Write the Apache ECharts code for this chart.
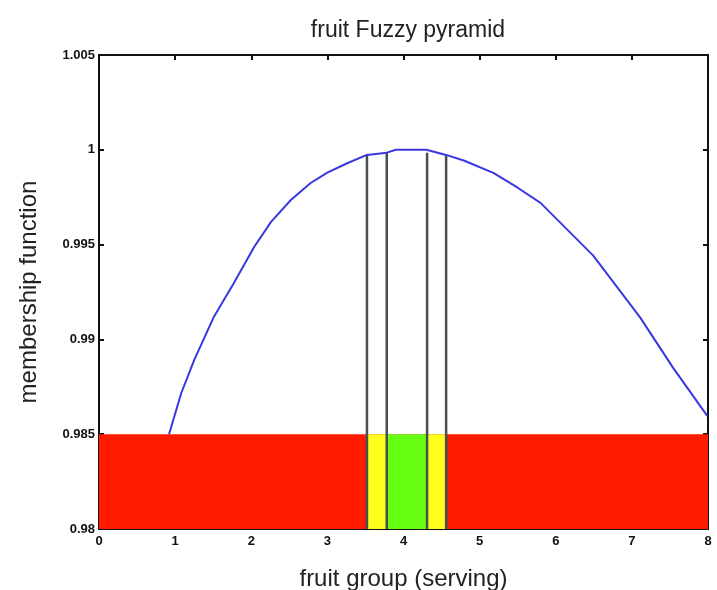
<!DOCTYPE html>
<html>
  <head>
    <meta charset="utf-8">
    <title>fruit Fuzzy pyramid</title>
    <script src="https://cdn.jsdelivr.net/npm/echarts@6/dist/echarts.min.js"></script>
    <style>
      html, body { margin: 0; padding: 0; background: #fff; }
      #chart { width: 717px; height: 590px; }
    </style>
  </head>
  <body>
    <div id="chart"></div>
    <script>
      // membership curve
      var curveX = [0.92, 1.08, 1.25, 1.51, 1.77, 2.04, 2.26, 2.52, 2.78, 3.0, 3.26, 3.52, 3.78, 3.9, 4.3, 4.56, 4.8, 5.18, 5.5, 5.8, 6.49, 7.11, 7.54, 7.99];
      var curveY = [0.985, 0.98716, 0.98891, 0.9912, 0.99296, 0.99489, 0.9962, 0.99735, 0.99825, 0.9988, 0.99929, 0.99973, 0.99985, 1.0, 1.0, 0.99973, 0.99942, 0.99878, 0.998, 0.9972, 0.99443, 0.99115, 0.98851, 0.98597];

      // coloured bands under the curve
      var bandStart = [0, 3.52, 4.31, 3.78];
      var bandEnd = [8, 3.78, 4.56, 4.31];
      var bandTop = [0.985, 0.985, 0.985, 0.985];
      var bandLevel = ['low', 'mid', 'mid', 'high'];

      // vertical cut lines
      var cutX = [3.52, 3.78, 4.31, 4.56];
      var cutTop = [0.99973, 0.99985, 0.99985, 0.99973];

      var xTicks = [0, 1, 2, 3, 4, 5, 6, 7, 8];
      var yTickLabels = ['0.98', '0.985', '0.99', '0.995', '1', '1.005'];

      var levelColor = { low: '#ff1a00', mid: '#ffff1e', high: '#66ff14' };
      var tickFont = { fontFamily: 'Liberation Sans Narrow, Liberation Sans, Arial', fontWeight: 'bold', fontSize: 13, color: '#111' };
      var frame = { show: true, onZero: false, lineStyle: { color: '#111', width: 2 } };

      var yMin = 0.98, yStep = 0.005;

      var chart = echarts.init(document.getElementById('chart'));
      chart.setOption({
        animation: false,
        backgroundColor: '#fff',
        title: {
          text: 'fruit Fuzzy pyramid',
          left: 403, top: 14, textAlign: 'center',
          textStyle: { fontFamily: 'Liberation Sans, Arial', fontWeight: 'normal', fontSize: 23, color: '#222' }
        },
        grid: { left: 99, right: 9, top: 55, bottom: 61, outerBoundsMode: 'none' },
        xAxis: [{
          type: 'value', min: 0, max: 8, interval: 1,
          name: 'fruit group (serving)', nameLocation: 'middle', nameGap: 38,
          nameTextStyle: { fontFamily: 'Liberation Sans, Arial', fontSize: 24, color: '#222' },
          axisLine: frame,
          axisTick: { show: true, inside: true, length: 5, lineStyle: { color: '#111', width: 2 } },
          axisLabel: Object.assign({ margin: 6, formatter: function (v) { return xTicks.indexOf(v) >= 0 ? String(v) : ''; } }, tickFont),
          splitLine: { show: false }
        }, {
          type: 'value', min: 0, max: 8, interval: 1, position: 'top',
          axisLine: frame,
          axisTick: { show: true, inside: true, length: 5, lineStyle: { color: '#111', width: 2 } },
          axisLabel: { show: false },
          splitLine: { show: false }
        }],
        yAxis: [{
          type: 'value', min: yMin, max: 1.005, interval: yStep,
          name: 'membership function', nameLocation: 'middle', nameGap: 58,
          nameTextStyle: { fontFamily: 'Liberation Sans, Arial', fontSize: 24, color: '#222' },
          axisLine: frame,
          axisTick: { show: true, inside: true, length: 5, lineStyle: { color: '#111', width: 2 } },
          axisLabel: Object.assign({ margin: 4, formatter: function (v) { return yTickLabels[Math.round((v - yMin) / yStep)]; } }, tickFont),
          splitLine: { show: false }
        }, {
          type: 'value', min: yMin, max: 1.005, interval: yStep, position: 'right',
          axisLine: frame,
          axisTick: { show: true, inside: true, length: 5, lineStyle: { color: '#111', width: 2 } },
          axisLabel: { show: false },
          splitLine: { show: false }
        }],
        series: [{
          type: 'custom',
          z: 1,
          data: bandStart.map(function (x0, i) { return [x0, bandEnd[i], bandTop[i], i]; }),
          renderItem: function (params, api) {
            var p0 = api.coord([api.value(0), yMin]);
            var p1 = api.coord([api.value(1), api.value(2)]);
            return {
              type: 'rect',
              shape: { x: p0[0], y: p1[1], width: p1[0] - p0[0], height: p0[1] - p1[1] },
              style: { fill: levelColor[bandLevel[api.value(3)]] }
            };
          }
        }, {
          type: 'custom',
          z: 2,
          data: cutX.map(function (x, i) { return [x, cutTop[i]]; }),
          renderItem: function (params, api) {
            var a = api.coord([api.value(0), yMin]);
            var b = api.coord([api.value(0), api.value(1)]);
            return {
              type: 'line',
              shape: { x1: a[0], y1: a[1], x2: b[0], y2: b[1] },
              style: { stroke: '#46504e', lineWidth: 2.5 }
            };
          }
        }, {
          type: 'line',
          z: 3,
          showSymbol: false,
          smooth: false,
          data: curveX.map(function (x, i) { return [x, curveY[i]]; }),
          lineStyle: { color: '#3838e0', width: 2 }
        }]
      });
    </script>
  </body>
</html>
